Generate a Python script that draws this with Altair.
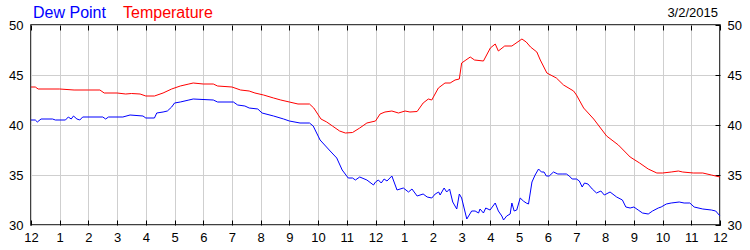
import altair as alt
import pandas as pd

# ---------------- data ----------------
dew_hours = [0.0, 0.15, 0.22, 0.35, 0.75, 0.85, 1.2, 1.3, 1.4, 1.48, 1.6, 1.7, 1.8, 2.5, 2.6, 2.7,
             3.2, 3.45, 3.9, 4.0, 4.3, 4.38, 4.6, 4.75, 4.9, 5.0, 5.2, 5.5, 5.65, 6.35, 6.5, 7.05,
             7.2, 7.45, 7.6, 7.9, 8.05, 8.45, 8.8, 9.0, 9.37, 9.7, 9.83, 10.07, 10.42, 10.65, 10.84,
             11.05, 11.2, 11.3, 11.45, 11.7, 11.93, 12.0, 12.1, 12.2, 12.3, 12.4, 12.57, 12.75,
             12.97, 13.15, 13.27, 13.45, 13.66, 13.8, 13.96, 14.08, 14.2, 14.25, 14.39, 14.48,
             14.58, 14.69, 14.83, 14.92, 15.0, 15.18, 15.35, 15.47, 15.59, 15.64, 15.76, 15.84,
             15.99, 16.17, 16.28, 16.4, 16.46, 16.57, 16.69, 16.75, 16.83, 16.92, 17.04, 17.15,
             17.25, 17.33, 17.45, 17.56, 17.68, 17.78, 17.87, 17.95, 18.05, 18.2, 18.35, 18.5,
             18.65, 18.75, 18.85, 19.0, 19.1, 19.2, 19.28, 19.4, 19.55, 19.7, 19.85, 19.97, 20.17,
             20.4, 20.6, 20.72, 20.87, 21.0, 21.15, 21.3, 21.5, 21.65, 21.85, 21.95, 22.13, 22.3,
             22.58, 22.75, 22.95, 23.1, 23.4, 23.7, 23.85, 24.0]
dew_values = [40.5, 40.5, 40.3, 40.6, 40.6, 40.5, 40.5, 40.8, 40.6, 40.9, 40.6, 40.5, 40.8, 40.8,
              40.6, 40.8, 40.8, 41.0, 40.9, 40.7, 40.7, 41.2, 41.3, 41.4, 41.8, 42.2, 42.3, 42.5,
              42.6, 42.5, 42.3, 42.3, 42.0, 41.9, 41.7, 41.6, 41.2, 40.9, 40.6, 40.4, 40.2, 40.2,
              39.9, 38.5, 37.4, 36.7, 35.5, 34.7, 34.7, 34.5, 34.8, 34.5, 34.0, 34.3, 34.5, 34.2,
              34.6, 34.4, 34.9, 33.5, 33.7, 33.3, 33.6, 32.9, 33.1, 32.8, 32.7, 33.1, 33.3, 33.0,
              33.7, 33.3, 33.6, 32.3, 31.6, 33.1, 32.7, 30.6, 31.4, 31.4, 31.2, 31.6, 31.2, 31.7,
              31.5, 32.2, 31.4, 30.9, 30.5, 30.9, 31.1, 32.2, 31.4, 31.5, 32.7, 32.4, 32.2, 32.1,
              34.3, 35.0, 35.6, 35.3, 35.3, 34.9, 34.9, 35.3, 35.1, 35.1, 35.1, 34.9, 34.6, 34.6,
              34.4, 33.8, 34.2, 34.1, 33.6, 33.2, 33.4, 33.0, 33.3, 32.8, 32.5, 31.8, 31.7, 31.8,
              31.5, 31.2, 31.1, 31.4, 31.7, 31.8, 32.1, 32.2, 32.3, 32.2, 32.2, 31.8, 31.6, 31.5,
              31.4, 30.9]

temp_hours = [0.0, 0.15, 0.25, 1.0, 1.5, 2.0, 2.4, 2.55, 3.0, 3.3, 3.5, 3.8, 4.0, 4.3, 4.6, 4.9,
              5.2, 5.5, 5.65, 6.0, 6.35, 6.5, 7.0, 7.3, 7.6, 7.8, 8.1, 8.45, 8.7, 9.0, 9.3, 9.7,
              9.85, 10.1, 10.3, 10.5, 10.75, 10.95, 11.2, 11.45, 11.7, 12.0, 12.16, 12.33, 12.57,
              12.8, 13.03, 13.2, 13.45, 13.66, 13.84, 13.96, 14.19, 14.42, 14.6, 14.77, 14.92,
              15.0, 15.15, 15.3, 15.45, 15.76, 16.0, 16.17, 16.28, 16.5, 16.75, 17.1, 17.25, 17.4,
              17.62, 17.74, 17.97, 18.3, 18.55, 18.9, 19.0, 19.25, 19.6, 20.05, 20.46, 20.87, 21.2,
              21.5, 21.8, 22.0, 22.3, 22.55, 22.7, 23.07, 23.4, 23.7, 24.0]
temp_values = [43.8, 43.8, 43.6, 43.6, 43.5, 43.5, 43.5, 43.2, 43.2, 43.1, 43.15, 43.1, 42.9,
               42.9, 43.2, 43.6, 43.9, 44.1, 44.2, 44.1, 44.1, 43.9, 43.8, 43.5, 43.4, 43.2, 43.0,
               42.7, 42.5, 42.3, 42.1, 42.1, 41.7, 40.6, 40.3, 39.9, 39.4, 39.2, 39.25, 39.7, 40.2,
               40.4, 41.1, 41.3, 41.4, 41.2, 41.4, 41.3, 41.35, 42.2, 42.6, 42.5, 43.7, 44.2, 44.2,
               44.5, 44.6, 46.2, 46.5, 46.8, 46.5, 46.4, 47.7, 48.1, 47.4, 47.9, 47.9, 48.6, 48.3,
               47.8, 47.3, 46.5, 45.2, 44.7, 44.0, 43.4, 43.0, 41.7, 40.6, 38.9, 38.0, 36.8, 36.2,
               35.6, 35.2, 35.2, 35.3, 35.4, 35.3, 35.2, 35.2, 35.0, 34.8]

hour_ticks = list(range(25))
hour_labels = ["12", "1", "2", "3", "4", "5", "6", "7", "8", "9", "10", "11",
               "12", "1", "2", "3", "4", "5", "6", "7", "8", "9", "10", "11", "12"]
y_ticks = [30, 35, 40, 45, 50]
series_names = ["Dew Point", "Temperature"]
series_colors = ["#0000ff", "#ff0000"]
date_text = ["3/2/2015"]

# ---------------- chart ----------------
FONT = "Liberation Sans"
GRID = "#cfcfcf"

dew = pd.DataFrame({"hour": dew_hours, "value": dew_values})
temp = pd.DataFrame({"hour": temp_hours, "value": temp_values})

label_expr = "[" + ",".join("'%s'" % s for s in hour_labels) + "][datum.value]"

xs = alt.Scale(domain=[0, 24], nice=False, zero=False)
ys = alt.Scale(domain=[30, 50], nice=False, zero=False)

dew_line = alt.Chart(dew).mark_line(color=series_colors[0], strokeWidth=1).encode(
    x=alt.X("hour:Q", scale=xs, axis=alt.Axis(
        orient="bottom", values=hour_ticks, labelExpr=label_expr, offset=-5,
        tickSize=5, tickColor="black", tickWidth=1, domain=False,
        grid=True, gridColor=GRID, gridWidth=1,
        labelPadding=6, labelFontSize=13, labelFont=FONT, labelColor="black",
        labelFlush=False, labelOverlap=False, title=None)),
    y=alt.Y("value:Q", scale=ys, axis=alt.Axis(
        orient="left", values=y_ticks, ticks=False, tickSize=0, domain=False,
        grid=True, gridColor=GRID, gridWidth=1,
        labelPadding=8, labelFontSize=13, labelFont=FONT, labelColor="black",
        labelFlush=False, labelOverlap=False, title=None)),
)

temp_line = alt.Chart(temp).mark_line(color=series_colors[1], strokeWidth=1).encode(
    x=alt.X("hour:Q", scale=xs, axis=alt.Axis(
        orient="top", values=hour_ticks, offset=-5, tickSize=5, tickColor="black",
        tickWidth=1, domain=False, grid=False, labels=False, title=None)),
    y=alt.Y("value:Q", scale=ys, axis=alt.Axis(
        orient="right", values=y_ticks, offset=-5, tickSize=5, tickColor="black",
        tickWidth=1, domain=False, grid=False,
        labelPadding=7, labelFontSize=13, labelFont=FONT, labelColor="black",
        labelFlush=False, labelOverlap=False, title=None)),
)

dew_title = alt.Chart(pd.DataFrame({"t": [series_names[0]]})).mark_text(
    align="left", baseline="alphabetic", fontSize=16, font=FONT, color=series_colors[0]
).encode(text="t:N", x=alt.value(2), y=alt.value(-7))

temp_title = alt.Chart(pd.DataFrame({"t": [series_names[1]]})).mark_text(
    align="left", baseline="alphabetic", fontSize=16, font=FONT, color=series_colors[1]
).encode(text="t:N", x=alt.value(92), y=alt.value(-7))

date_title = alt.Chart(pd.DataFrame({"t": date_text})).mark_text(
    align="right", baseline="alphabetic", fontSize=13, font=FONT, color="black"
).encode(text="t:N", x=alt.value(687), y=alt.value(-8))

chart = alt.layer(dew_line, temp_line, dew_title, temp_title, date_title).resolve_axis(
    x="independent", y="independent"
).properties(
    width=689, height=200,
    autosize=alt.AutoSizeParams(type="none"),
    padding={"left": 31, "top": 25, "right": 30, "bottom": 25},
    background="white",
).configure_view(stroke="black", strokeWidth=1.5)

chart.save("out.html", embed_options={"renderer": "svg", "actions": False})
